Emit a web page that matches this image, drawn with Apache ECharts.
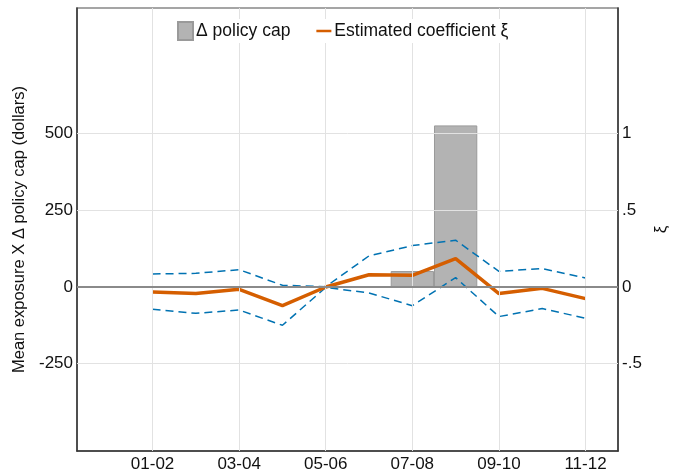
<!DOCTYPE html>
<html>
<head>
<meta charset="utf-8">
<script src="https://cdn.jsdelivr.net/npm/echarts@6/dist/echarts.min.js"></script>
<style>
  html, body { margin: 0; padding: 0; background: #fff; }
  #chart { width: 678px; height: 474px; }
</style>
</head>
<body>
<div id="chart"></div>
<script>
// periods (two-month windows)
const periods = ['01-02', '02-03', '03-04', '04-05', '05-06', '06-07', '07-08', '08-09', '09-10', '10-11', '11-12'];
// mean exposure x change in policy cap (dollars), left axis
const policyCap = [0, 0, 0, 0, 0, 0, 52, 527, 0, 0, 0];
// estimated coefficient xi and its confidence band, right axis
const coef = [-0.033, -0.043, -0.015, -0.122, 0.0, 0.08, 0.076, 0.185, -0.043, -0.009, -0.076];
const upper = [0.085, 0.089, 0.113, 0.011, 0.002, 0.203, 0.27, 0.305, 0.102, 0.12, 0.059];
const lower = [-0.146, -0.172, -0.15, -0.25, -0.003, -0.039, -0.122, 0.061, -0.193, -0.141, -0.204];
// tick labels
const xTicks = [1, 3, 5, 7, 9, 11];
const leftTicks = [-250, 0, 250, 500];
const rightTicks = [-0.5, 0, 0.5, 1];

const font = 'Liberation Sans';
const toXY = arr => arr.map((v, i) => [i + 1, v]);
// short thick line inside a 16x18 box, for the legend
const lineIcon = 'path://M0,0L16,0L16,0.01L0,0.01ZM0,7.6L16,7.6L16,10.4L0,10.4ZM0,17.99L16,17.99L16,18L0,18Z';

const chart = echarts.init(document.getElementById('chart'));

chart.setOption({
  animation: false,
  textStyle: { fontFamily: font },
  grid: {
    left: 77, right: 60, top: 8, bottom: 23,
    show: true, borderColor: '#888', borderWidth: 1.5, backgroundColor: 'transparent'
  },
  legend: {
    data: [
      { name: 'Δ policy cap', icon: 'rect' },
      {
        name: 'Estimated coefficient ξ', icon: lineIcon,
        itemStyle: { color: '#D55E00', borderWidth: 0 }
      }
    ],
    left: 173, top: 19, z: 10,
    padding: [2, 4],
    backgroundColor: '#fff',
    itemWidth: 15, itemHeight: 18, itemGap: 26,
    textStyle: { fontFamily: font, fontSize: 17.5, color: '#111', padding: [0, 0, 0, -2] }
  },
  xAxis: {
    type: 'value',
    min: -0.745, max: 11.75,
    axisLine: { onZero: false, lineStyle: { color: '#333', width: 1.5 } },
    axisTick: { inside: true, length: 5, customValues: xTicks, lineStyle: { color: '#333' } },
    axisLabel: {
      customValues: xTicks, fontSize: 17, color: '#111', margin: 5,
      formatter: v => periods[Math.round(v) - 1] || ''
    },
    splitLine: { show: false }
  },
  yAxis: [
    {
      type: 'value', position: 'left',
      min: -535, max: 910,
      name: 'Mean exposure X Δ policy cap (dollars)',
      nameLocation: 'middle', nameGap: 47,
      nameTextStyle: { fontSize: 16.5, color: '#111', fontFamily: font },
      axisLine: { show: true, onZero: false, lineStyle: { color: '#333', width: 1.5 } },
      axisTick: { show: true, inside: true, length: 6, customValues: leftTicks, lineStyle: { color: '#777' } },
      axisLabel: { customValues: leftTicks, fontSize: 17, color: '#111', margin: 4 },
      splitLine: { show: false }
    },
    {
      type: 'value', position: 'right',
      min: -1.07, max: 1.82,
      name: 'ξ',
      nameLocation: 'middle', nameGap: 30,
      nameTextStyle: { fontSize: 17, color: '#111', fontFamily: font },
      axisLine: { show: true, onZero: false, lineStyle: { color: '#333', width: 1.5 } },
      axisTick: { show: true, inside: true, length: 6, customValues: rightTicks, lineStyle: { color: '#777' } },
      axisLabel: {
        customValues: rightTicks, fontSize: 17, color: '#111', margin: 4,
        formatter: v => v === 0 ? '0' : String(v).replace('0.', '.')
      },
      splitLine: { show: false }
    }
  ],
  series: [
    {
      // grid lines
      type: 'line', data: [], z: 0, silent: true,
      markLine: {
        silent: true, symbol: 'none', label: { show: false },
        lineStyle: { color: '#e2e2e2', width: 1, type: 'solid' },
        data: xTicks.map(v => ({ xAxis: v })).concat(
          leftTicks.filter(v => v !== 0).map(v => ({ yAxis: v })))
      }
    },
    {
      name: 'Δ policy cap',
      type: 'bar',
      yAxisIndex: 0,
      barWidth: 43.3,
      data: toXY(policyCap).filter(d => d[1] !== 0),
      itemStyle: { color: '#b3b3b3', borderColor: '#9a9a9a', borderWidth: 1 },
      markLine: {
        silent: true, symbol: 'none', label: { show: false },
        lineStyle: { color: '#8a8a8a', width: 2, type: 'solid' },
        data: [{ yAxis: 0 }]
      }
    },
    {
      name: 'upper', type: 'line', yAxisIndex: 1,
      data: toXY(upper), symbol: 'none',
      lineStyle: { color: '#0072B2', width: 1.5, type: [8, 5] }
    },
    {
      name: 'lower', type: 'line', yAxisIndex: 1,
      data: toXY(lower), symbol: 'none',
      lineStyle: { color: '#0072B2', width: 1.5, type: [8, 5] }
    },
    {
      name: 'Estimated coefficient ξ', type: 'line', yAxisIndex: 1,
      data: toXY(coef), symbol: 'none',
      itemStyle: { color: '#D55E00' },
      lineStyle: { color: '#D55E00', width: 3.5 }
    }
  ]
});
</script>
</body>
</html>
